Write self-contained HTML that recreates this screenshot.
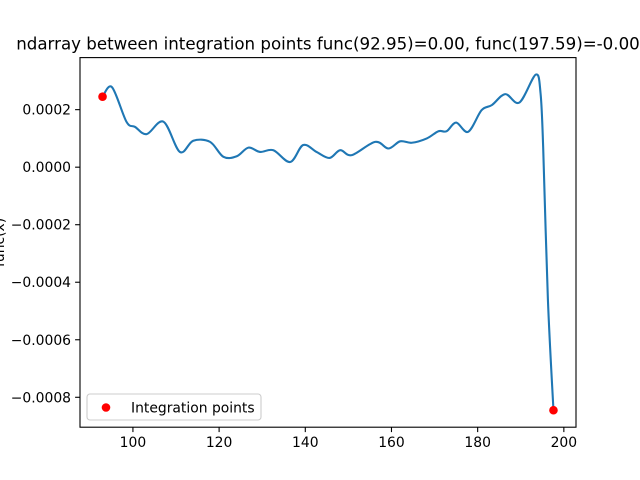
<!DOCTYPE html>
<html><head><meta charset="utf-8"><style>body{margin:0;background:#fff}svg{display:block;font-family:"DejaVu Sans","Liberation Sans",sans-serif}</style></head>
<body>
<svg id="chart" width="640" height="480">
<rect x="0" y="0" width="640" height="480" fill="#fff"/>
<g id="plot"></g>
</svg>
<script>
const xs = [92.95,95.15,98.5,100.5,103.2,107.1,110.9,114.0,117.9,121.0,124.1,126.8,129.5,132.6,136.5,139.5,142.6,145.6,148.1,150.8,156.2,159.3,162.0,164.7,168.2,170.9,172.8,175.0,177.8,180.9,183.3,186.4,189.7,193.5,194.6,195.2,196.3,197.59];
const ys = [0.000245,0.000278,0.000158,0.00014,0.000115,0.000158,0.000053,0.000092,0.000088,0.000036,0.000038,0.000068,0.000053,0.000059,0.000018,0.000077,0.000053,0.000032,0.000059,0.000042,0.000088,0.000065,0.00009,0.000085,0.0001,0.000125,0.000125,0.000155,0.000123,0.000198,0.000216,0.000254,0.000225,0.000322,0.000256,0.00007,-0.00046,-0.000845];
const ptsX = [92.95,197.59];
const ptsY = [0.000245,-0.000845];
const xTicks = [100,120,140,160,180,200];
const yTicks = [-0.0008,-0.0006,-0.0004,-0.0002,0.0,0.0002];
const yTickLabels = ["\u22120.0008","\u22120.0006","\u22120.0004","\u22120.0002","0.0000","0.0002"];

const L=80,R=576,T=57.6,B=427.2;
const xmin=87.718,xmax=202.82,ymin=-0.000904,ymax=0.000381;
const X=v=>L+(v-xmin)/(xmax-xmin)*(R-L);
const Y=v=>B-(v-ymin)/(ymax-ymin)*(B-T);
const g=document.getElementById('plot');
const NS='http://www.w3.org/2000/svg';
function mk(tag,attrs,parent){const e=document.createElementNS(NS,tag);for(const k in attrs)e.setAttribute(k,attrs[k]);(parent||g).appendChild(e);return e;}

const P=xs.map((x,i)=>[X(x),Y(ys[i])]);
let d=`M${P[0][0]},${P[0][1]}`;
for(let i=0;i<P.length-1;i++){const p0=P[Math.max(0,i-1)],p1=P[i],p2=P[i+1],p3=P[Math.min(P.length-1,i+2)];
d+=` C${p1[0]+(p2[0]-p0[0])/6},${p1[1]+(p2[1]-p0[1])/6} ${p2[0]-(p3[0]-p1[0])/6},${p2[1]-(p3[1]-p1[1])/6} ${p2[0]},${p2[1]}`;}
const line=mk('path',{d:d,fill:'none',stroke:'#1f77b4','stroke-width':2.1,'stroke-linejoin':'round'});


ptsX.forEach((x,i)=>{const c=mk('circle',{cx:X(x),cy:Y(ptsY[i]),r:4.3,fill:'#ff0000'});

});

const frame=mk('rect',{x:L,y:T,width:R-L,height:B-T,fill:'none',stroke:'#000','stroke-width':1.1});


xTicks.forEach(v=>{const x=X(v);mk('line',{x1:x,x2:x,y1:B,y2:B+4.9,stroke:'#000','stroke-width':1.1});
const t=mk('text',{x:x,y:B+20,'font-size':13.9,'text-anchor':'middle'});t.textContent=v;

});
yTicks.forEach((v,i)=>{const y=Y(v);mk('line',{x1:L-4.9,x2:L,y1:y,y2:y,stroke:'#000','stroke-width':1.1});
const t=mk('text',{x:L-9,y:y+5,'font-size':13.9,'text-anchor':'end'});t.textContent=yTickLabels[i];

});
const yl=mk('text',{x:0,y:0,'font-size':13.9,'text-anchor':'middle',transform:`translate(4,${(T+B)/2}) rotate(-90)`});yl.textContent='func(x)';


const tt=mk('text',{x:(L+R)/2,y:T-8,'font-size':16.67,'text-anchor':'middle'});tt.textContent='ndarray between integration points func(92.95)=0.00, func(197.59)=-0.00';


const lg=mk('g',{});


mk('rect',{x:87,y:394,width:174,height:26,rx:3,fill:'#fff',stroke:'#ccc','stroke-width':1.1},lg);
mk('circle',{cx:106,cy:407.5,r:4.3,fill:'#ff0000'},lg);
const lt=mk('text',{x:131,y:412.5,'font-size':13.9},lg);lt.textContent='Integration points';


</script>
</body></html>
